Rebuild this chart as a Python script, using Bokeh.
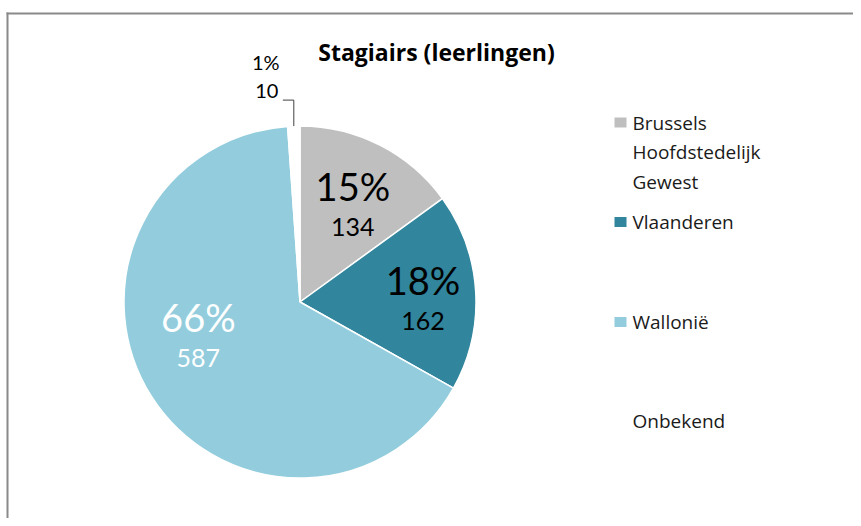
import numpy as np
from bokeh.plotting import figure
from bokeh.models import Range1d
from bokeh.core.properties import value
from bokeh.embed import file_html
from bokeh.resources import INLINE

# ---- data ----
categories = ["Brussels Hoofdstedelijk Gewest", "Vlaanderen", "Wallonië", "Onbekend"]
legend_lines = [["Brussels", "Hoofdstedelijk", "Gewest"], ["Vlaanderen"], ["Wallonië"], ["Onbekend"]]
counts = [134, 162, 587, 10]
title = "Stagiairs (leerlingen)"

# ---- style / layout ----
colors = ["#BFBFBF", "#31859C", "#93CDDD", "#FFFFFF"]
label_colors = ["#000000", "#000000", "#FFFFFF"]
FONT = "Open Sans"
NUMFONT = "Lato"
W, H = 853, 518


def fx(px):
    return px


def fy(py):
    return H - py


p = figure(width=W, height=H, output_backend="svg", toolbar_location=None,
           x_range=Range1d(0, W), y_range=Range1d(0, H), min_border=0)
p.axis.visible = False
p.grid.visible = False
p.outline_line_color = None
p.background_fill_color = "white"
p.border_fill_color = "white"

# frame (chart area border)
p.line(x=[fx(6), fx(W)], y=[fy(13), fy(13)], line_color="#8A8A8A", line_width=2)
p.line(x=[fx(7), fx(7)], y=[fy(12), fy(H)], line_color="#8A8A8A", line_width=2)

# pie
cx, cy, R = fx(299.5), fy(301.5), 176
vals = np.array(counts, dtype=float)
frac = vals / vals.sum()
ang = frac * 2 * np.pi
cum = np.concatenate([[0], np.cumsum(ang)[:-1]])
starts = np.pi / 2 - cum
ends = starts - ang
p.wedge(x=[cx] * len(vals), y=[cy] * len(vals), radius=R, radius_units="screen",
        start_angle=list(starts), end_angle=list(ends), direction="clock",
        fill_color=colors, line_color="white", line_width=1.5)

pct = [f"{round(f * 100):d}%" for f in frac]

# inner labels (first three slices)
mid_top = (cum + ang / 2)  # angle from top, clockwise
label_r = [109, 123, 108]
label_shift = np.radians([2, 3, 12.6])
for i in range(3):
    t = mid_top[i] + label_shift[i]
    lx = cx + label_r[i] * np.sin(t)
    ly = cy + label_r[i] * np.cos(t)
    p.text(x=[lx], y=[ly + 21], text=[pct[i]], text_align="center", text_baseline="middle",
           text_font=value(NUMFONT), text_font_size="38px", text_color=label_colors[i])
    p.text(x=[lx], y=[ly - 20], text=[str(counts[i])], text_align="center", text_baseline="middle",
           text_font=value(NUMFONT), text_font_size="25px", text_color=label_colors[i])

# outside label for the small slice, with leader line
t = mid_top[3]
ex = cx + R * np.sin(t)
ey = cy + R * np.cos(t)
p.line(x=[ex - 11, ex, ex], y=[ey + 26, ey + 26, ey], line_color="#404040", line_width=1)
p.text(x=[ex - 28], y=[ey + 64], text=[pct[3]], text_align="center", text_baseline="middle",
       text_font=value(NUMFONT), text_font_size="20px", text_color="#000000")
p.text(x=[ex - 27], y=[ey + 35], text=[str(counts[3])], text_align="center", text_baseline="middle",
       text_font=value(NUMFONT), text_font_size="20px", text_color="#000000")

# title
p.text(x=[fx(436)], y=[fy(51)], text=[title], text_align="center", text_baseline="middle",
       text_font=value(FONT), text_font_style="bold", text_font_size="23px", text_color="#000000")

# legend (manual)
leg_y = [fy(122), fy(221.5), fy(321.5), fy(420)]
for i, lines in enumerate(legend_lines):
    if colors[i] != "#FFFFFF":
        p.rect(x=[fx(620)], y=[leg_y[i]], width=12, height=10, width_units="screen",
               height_units="screen", fill_color=colors[i], line_color=None)
    for j, ln in enumerate(lines):
        p.text(x=[fx(632)], y=[leg_y[i] - 29.5 * j], text=[ln], text_align="left",
               text_baseline="middle", text_font=value(FONT), text_font_size="19px",
               text_color="#1A1A1A")

open("out.html", "w").write(file_html(p, INLINE))
